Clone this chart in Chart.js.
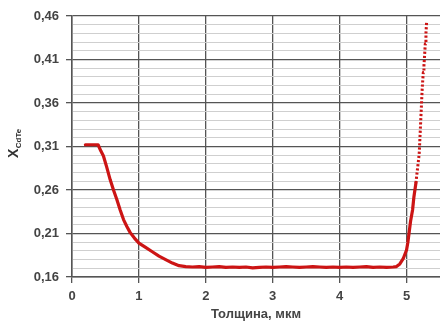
<!DOCTYPE html>
<html><head><meta charset="utf-8">
<script src="https://cdn.jsdelivr.net/npm/chart.js@4/dist/chart.umd.min.js"></script>
<style>html,body{margin:0;padding:0;background:#fff}#wrap{width:440px;height:322px}</style>
</head><body><div id="wrap"><canvas id="c" width="440" height="322"></canvas></div>
<script>
const thickness = [0.20,0.30,0.39,0.43,0.47,0.52,0.57,0.62,0.67,0.72,0.77,0.82,0.87,0.93,1.00,1.10,1.20,1.30,1.40,1.50,1.60,1.70,1.80,1.90,2.00,2.10,2.20,2.30,2.40,2.50,2.60,2.70,2.80,2.90,3.00,3.10,3.20,3.30,3.40,3.50,3.60,3.70,3.80,3.90,4.00,4.10,4.20,4.30,4.40,4.50,4.60,4.70,4.80,4.85,4.90,4.95,5.00,5.02,5.04,5.06,5.09,5.11,5.14,5.16,5.18,5.19,5.205,5.22,5.235,5.25,5.26,5.27,5.28,5.29,5.30];
const xCdTe = [0.312,0.312,0.312,0.305,0.299,0.286,0.272,0.260,0.249,0.237,0.226,0.218,0.211,0.205,0.199,0.194,0.189,0.184,0.180,0.176,0.173,0.172,0.1715,0.172,0.171,0.1715,0.172,0.171,0.1715,0.171,0.1715,0.1705,0.171,0.1715,0.171,0.1715,0.172,0.1715,0.171,0.1715,0.172,0.1715,0.171,0.1715,0.171,0.1715,0.171,0.1715,0.172,0.171,0.1715,0.171,0.1715,0.172,0.175,0.181,0.191,0.200,0.212,0.224,0.237,0.252,0.268,0.282,0.295,0.303,0.328,0.353,0.378,0.395,0.403,0.415,0.428,0.440,0.453];
const yTickValues = [0.16,0.21,0.26,0.31,0.36,0.41,0.46];
const xTickValues = [0,1,2,3,4,5];
const xTitle = 'Толщина, мкм';
const yTitleMain = 'X';
const yTitleSub = 'CdTe';

const isMajor = v => yTickValues.some(t => Math.abs(t - v) < 1e-6);
const fontFam = '"Liberation Sans", Arial, sans-serif';

const yTitlePlugin = {
  id: 'ytitle',
  afterDraw(chart) {
    const ctx = chart.ctx;
    ctx.save();
    ctx.translate(18, 158);
    ctx.rotate(-Math.PI / 2);
    ctx.fillStyle = '#333';
    ctx.textBaseline = 'alphabetic';
    ctx.font = 'bold 14px ' + fontFam;
    ctx.fillText(yTitleMain, 0, 0);
    const w = ctx.measureText(yTitleMain).width;
    ctx.font = 'bold 8px ' + fontFam;
    ctx.fillText(yTitleSub, w + 0.5, 3);
    ctx.restore();
  }
};

new Chart(document.getElementById('c'), {
  type: 'scatter',
  data: {
    datasets: [{
      data: thickness.map((x, i) => ({ x: x, y: xCdTe[i] })),
      showLine: true,
      borderColor: '#cc1414',
      backgroundColor: '#cc1414',
      borderWidth: 3.2,
      pointRadius: 0,
      tension: 0,
      borderCapStyle: 'round',
      borderJoinStyle: 'round',
      segment: {
        borderDash: c => c.p0.parsed.x >= 5.12 ? [2.2, 2] : undefined,
        borderCapStyle: c => c.p0.parsed.x >= 5.12 ? 'butt' : undefined,
        borderWidth: c => c.p0.parsed.x >= 5.12 ? 3 : undefined
      }
    }]
  },
  options: {
    responsive: false,
    animation: false,
    devicePixelRatio: 1,
    layout: { padding: { top: 16, right: 0, left: 0, bottom: 0 } },
    plugins: { legend: { display: false }, tooltip: { enabled: false } },
    scales: {
      x: {
        type: 'linear',
        min: 0, max: 5.5,
        afterBuildTicks: s => { s.ticks = xTickValues.map(v => ({ value: v })); },
        afterFit: s => { s.height = 45; },
        border: { color: '#555', width: 1.5 },
        grid: { color: '#555', lineWidth: 1.3, tickLength: 6, tickColor: '#555' },
        ticks: {
          color: '#444', padding: 6,
          font: { family: fontFam, size: 13, weight: 'bold' },
          callback: v => String(v)
        },
        title: {
          display: true, text: xTitle, color: '#444',
          font: { family: fontFam, size: 13, weight: 'bold' },
          padding: { top: 0, bottom: 0 }
        }
      },
      y: {
        min: 0.16, max: 0.46,
        afterBuildTicks: s => {
          const t = [];
          for (let i = 16; i <= 46; i++) t.push({ value: i / 100 });
          s.ticks = t;
        },
        afterFit: s => { s.width = 72; },
        border: { color: '#555', width: 1.5 },
        grid: {
          color: c => isMajor(c.tick.value) ? '#555' : '#cfcfcf',
          lineWidth: c => isMajor(c.tick.value) ? 1.3 : 1,
          tickLength: 6,
          tickColor: c => isMajor(c.tick.value) ? '#555' : 'rgba(0,0,0,0)'
        },
        ticks: {
          color: '#444', padding: 7, autoSkip: false,
          font: { family: fontFam, size: 13, weight: 'bold' },
          callback: v => isMajor(v) ? v.toFixed(2).replace('.', ',') : ''
        }
      }
    }
  },
  plugins: [yTitlePlugin]
});
</script></body></html>
